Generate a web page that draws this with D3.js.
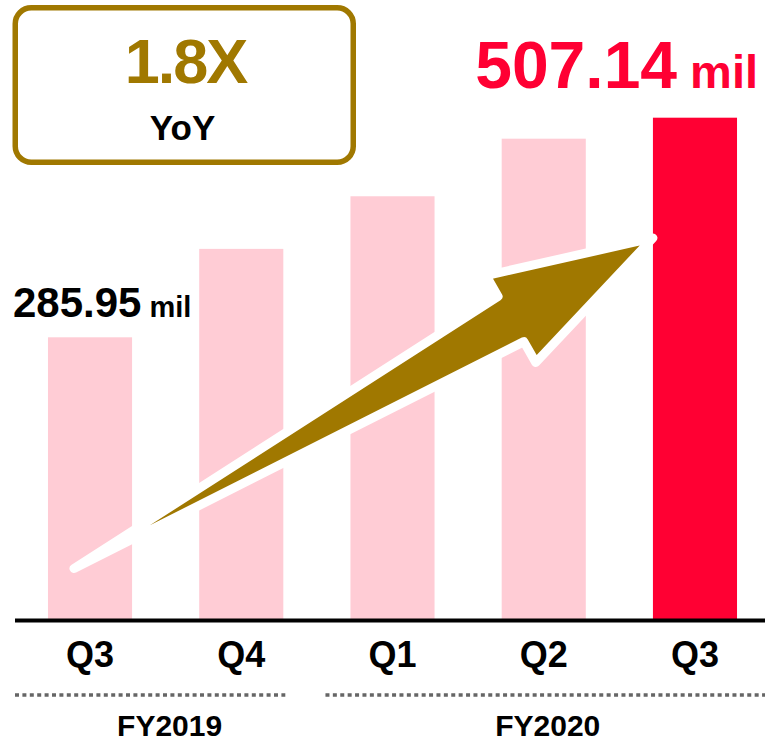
<!DOCTYPE html>
<html>
<head>
<meta charset="utf-8">
<script src="https://cdn.jsdelivr.net/npm/d3@7"></script>
<style>
  html, body { margin: 0; padding: 0; background: #ffffff; }
  svg { display: block; }
  text { font-family: "Liberation Sans", Arial, Helvetica, sans-serif; font-weight: bold; }
</style>
</head>
<body>
<svg id="chart" width="765" height="742"></svg>
<script>
// ---------- data ----------
const quarters    = ["Q3", "Q4", "Q1", "Q2", "Q3"];
const fiscalYears = ["FY2019", "FY2019", "FY2020", "FY2020", "FY2020"];
const revenue     = [285.95, 375, 428, 486, 507.14];   // millions
const firstLabel  = "285.95";
const lastLabel   = "507.14";
const unitLabel   = "mil";
const yoyValue    = "1.8X";
const yoyText     = "YoY";
// arrow annotation (data space): tail near first bar, head at last bar
const arrowTail = { index: 0, offset: 0.31, value: 53 };
const arrowHead = { index: 4, offset: 0.0, value: 386 };

// ---------- setup ----------
const W = 765, H = 742;
const svg = d3.select("#chart");
const GOLD = "#A07800", RED = "#FF0033", PINK = "#FFCCD5";

const x = d3.scaleBand()
  .domain(d3.range(revenue.length))
  .range([14.4, 770.6])
  .paddingInner(0.444)
  .paddingOuter(0.222);
const y = d3.scaleLinear().domain([0, 600]).range([621.2, 25.5]);
const bw = x.bandwidth();

// ---------- bars ----------
svg.append("g").selectAll("rect")
  .data(revenue)
  .join("rect")
  .attr("x", (d, i) => x(i))
  .attr("y", d => y(d))
  .attr("width", bw)
  .attr("height", d => y(0) - y(d))
  .attr("fill", (d, i) => i === revenue.length - 1 ? RED : PINK);

// ---------- baseline axis ----------
const xAxis = d3.axisBottom(x).tickSize(0).tickFormat(i => quarters[i]);
const axisG = svg.append("g").attr("transform", "translate(0,620.5)").call(xAxis);
axisG.select(".domain").remove();
axisG.append("line")
  .attr("x1", 15).attr("x2", W)
  .attr("stroke", "#000").attr("stroke-width", 4);
axisG.selectAll(".tick text")
  .attr("y", 0).attr("dy", null)
  .attr("transform", "translate(0,46.5)")
  .attr("fill", "#000")
  .style("font-size", "36px")
  .style("font-family", "'Liberation Sans', Arial, sans-serif")
  .style("font-weight", "bold");

// ---------- fiscal-year groups ----------
const groups = d3.groups(d3.range(revenue.length), i => fiscalYears[i]);
const groupLines = [
  { x1: 15, x2: x(1) + bw + 2 },
  { x1: x(2) - 25, x2: W }
];
groups.forEach(([fy, idx], gi) => {
  const gl = groupLines[gi];
  svg.append("line")
    .attr("x1", gl.x1).attr("x2", gl.x2)
    .attr("y1", 695).attr("y2", 695)
    .attr("stroke", "#666").attr("stroke-width", 3.5)
    .attr("stroke-dasharray", "4,3.4");
  const cx = d3.mean(idx, i => x(i) + bw / 2) + 4;
  svg.append("text")
    .attr("x", cx).attr("y", 735.5)
    .attr("text-anchor", "middle")
    .style("font-size", "30px")
    .attr("fill", "#000")
    .text(fy);
});

// ---------- arrow ----------
const T = [x(arrowTail.index) + arrowTail.offset * bw, y(arrowTail.value)];
const Hd = [x(arrowHead.index) + arrowHead.offset * bw, y(arrowHead.value)];
const dx = Hd[0] - T[0], dy = Hd[1] - T[1];
const L = Math.hypot(dx, dy);
const u = [dx / L, dy / L];
const n = [u[1], -u[0]];
const headLen = 163.5, headHalf = 50, shaftHalf = 26;
const P = (a, up) => [T[0] + a * u[0] + up * n[0], T[1] + a * u[1] + up * n[1]];
const arrowPts = [
  P(0, 0),
  P(L - headLen, shaftHalf),
  P(L - headLen, headHalf),
  P(L, 0),
  P(L - headLen, -headHalf),
  P(L - headLen, -shaftHalf)
];
svg.append("path")
  .attr("d", d3.line()(arrowPts) + "Z")
  .attr("fill", GOLD)
  .attr("stroke", "#fff")
  .attr("stroke-width", 9)
  .attr("stroke-linejoin", "round");

// ---------- value labels ----------
const t1 = svg.append("text")
  .attr("x", 13).attr("y", y(revenue[0]) - 20)
  .attr("fill", "#000");
t1.append("tspan").style("font-size", "42px").text(firstLabel);
t1.append("tspan").style("font-size", "29px").text(" " + unitLabel);

const last = revenue.length - 1;
const t2 = svg.append("text")
  .attr("x", x(last) + bw + 21).attr("y", y(revenue[last]) - 30)
  .attr("text-anchor", "end")
  .attr("fill", RED);
t2.append("tspan").style("font-size", "66px").text(lastLabel);
t2.append("tspan").style("font-size", "47px").text(" " + unitLabel);

// ---------- YoY box ----------
svg.append("rect")
  .attr("x", 15.25).attr("y", 7.75)
  .attr("width", 338).attr("height", 154.5)
  .attr("rx", 16).attr("ry", 16)
  .attr("fill", "#fff")
  .attr("stroke", GOLD).attr("stroke-width", 5.5);
svg.append("text")
  .attr("x", 185.5).attr("y", 83)
  .attr("text-anchor", "middle")
  .attr("fill", GOLD)
  .style("font-size", "63px")
  .style("letter-spacing", "-2px")
  .text(yoyValue);
svg.append("text")
  .attr("x", 182.5).attr("y", 140)
  .attr("text-anchor", "middle")
  .attr("fill", "#000")
  .style("font-size", "35px")
  .text(yoyText);
</script>
</body>
</html>
